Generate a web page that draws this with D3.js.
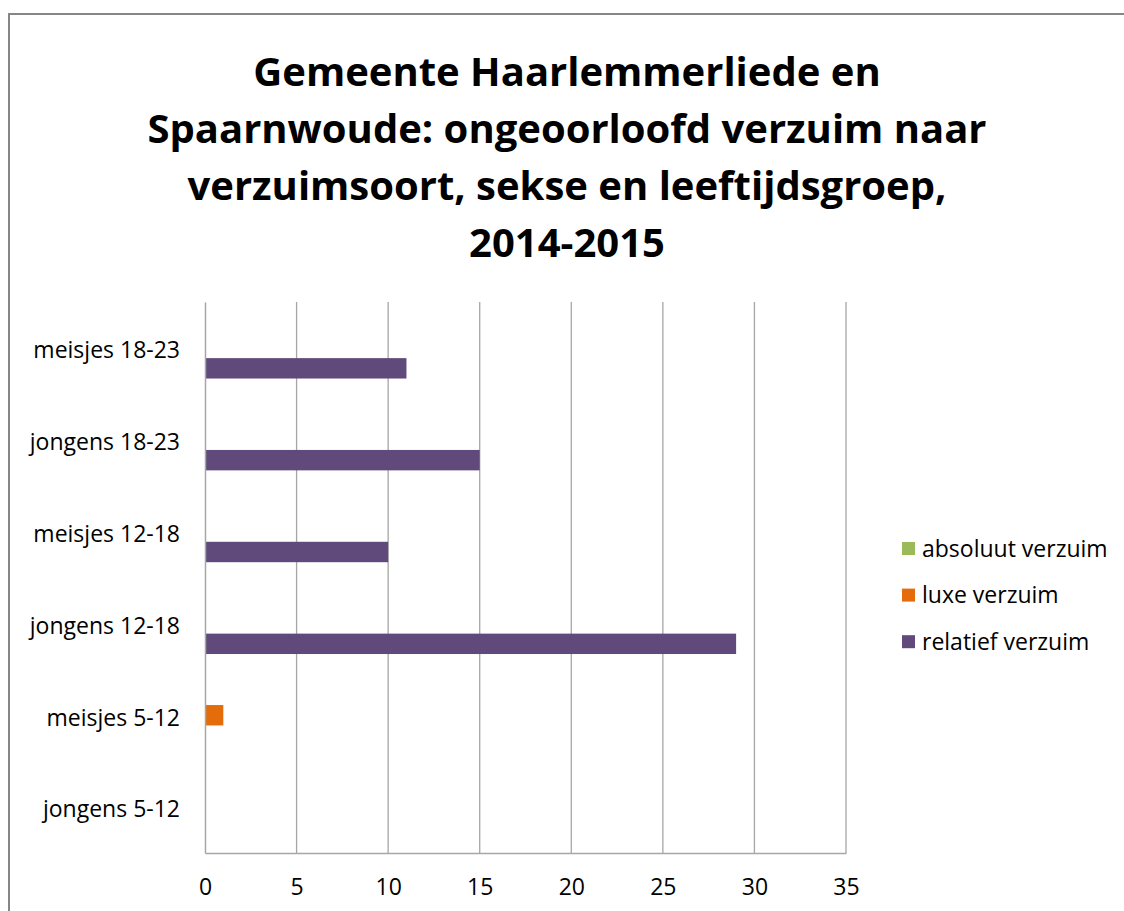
<!DOCTYPE html>
<html>
<head>
<meta charset="utf-8">
<script src="https://cdn.jsdelivr.net/npm/d3@7"></script>
<style>
body { margin: 0; background: #fff; }
text { font-family: 'Open Sans', Lato, sans-serif; fill: #000; }
</style>
</head>
<body>
<div id="chart"></div>
<script>
// data, bottom category first (as in the excel sheet)
var categories = ['jongens 5-12', 'meisjes 5-12', 'jongens 12-18', 'meisjes 12-18', 'jongens 18-23', 'meisjes 18-23'];
var seriesNames = ['absoluut verzuim', 'luxe verzuim', 'relatief verzuim'];
var absoluut = [0, 0, 0, 0, 0, 0];
var luxe = [0, 1, 0, 0, 0, 0];
var relatief = [0, 0, 29, 10, 15, 11];
var xTicks = [0, 5, 10, 15, 20, 25, 30, 35];
var titleLines = ['Gemeente Haarlemmerliede en', 'Spaarnwoude: ongeoorloofd verzuim naar', 'verzuimsoort, sekse en leeftijdsgroep,', '2014-2015'];

var colors = ['#9bbb59', '#e46c0a', '#604a7b'];
var values = [absoluut, luxe, relatief];

var width = 1124, height = 911;
var svg = d3.select('#chart').append('svg').attr('width', width).attr('height', height);

// outer frame (cut off at right and bottom)
svg.append('rect')
    .attr('x', 9).attr('y', 14)
    .attr('width', width + 20).attr('height', height + 20)
    .attr('fill', '#fff').attr('stroke', '#868686').attr('stroke-width', 2);

// title
svg.append('g').selectAll('text').data(titleLines).enter().append('text')
    .attr('x', 567)
    .attr('y', (d, i) => 86 + i * 57)
    .attr('text-anchor', 'middle')
    .style('font-size', '40px')
    .style('font-weight', 'bold')
    .text(d => d);

var plot = {left: 205, right: 846, top: 302, bottom: 853};

var x = d3.scaleLinear().domain([0, 35]).range([plot.left, plot.right]);
var y = d3.scaleBand().domain(categories.slice().reverse()).range([plot.top, plot.bottom]);
var ySub = d3.scaleBand().domain(seriesNames).range([0, y.bandwidth()]).paddingInner(0).paddingOuter(0.75);

// gridlines
svg.append('g').selectAll('line').data(xTicks.slice(1)).enter().append('line')
    .attr('x1', d => x(d)).attr('x2', d => x(d))
    .attr('y1', plot.top).attr('y2', plot.bottom)
    .attr('stroke', '#a6a6a6').attr('stroke-width', 1.3);

// bars
var groups = svg.append('g').selectAll('g').data(seriesNames).enter().append('g')
    .attr('fill', (d, i) => colors[i]);

groups.selectAll('rect')
    .data((s, si) => categories.map((c, ci) => ({cat: c, series: s, value: values[si][ci]})))
    .enter().append('rect')
    .filter(d => d.value > 0)
    .attr('x', x(0))
    .attr('y', d => y(d.cat) + ySub(d.series))
    .attr('width', d => x(d.value) - x(0))
    .attr('height', ySub.bandwidth());

// axes
var xAxis = svg.append('g').attr('transform', `translate(0,${plot.bottom})`)
    .call(d3.axisBottom(x).tickValues(xTicks).tickSize(0).tickPadding(26));
var yAxis = svg.append('g').attr('transform', `translate(${plot.left},0)`)
    .call(d3.axisLeft(y).tickSize(0).tickPadding(25));

[xAxis, yAxis].forEach(a => {
    a.select('.domain').attr('stroke', '#a6a6a6').attr('stroke-width', 1.5);
    a.selectAll('text').style('font-size', '23px').attr('fill', '#000');
});
yAxis.selectAll('.tick text').attr('dy', '0.45em');

// legend
var legend = svg.append('g').selectAll('g').data(seriesNames).enter().append('g')
    .attr('transform', (d, i) => `translate(902,${548.5 + i * 46.6})`);

legend.append('rect')
    .attr('x', 0).attr('y', -6.5).attr('width', 13).attr('height', 13)
    .attr('fill', (d, i) => colors[i]);

legend.append('text')
    .attr('x', 20).attr('dy', '0.35em')
    .style('font-size', '23px')
    .text(d => d);
</script>
</body>
</html>
